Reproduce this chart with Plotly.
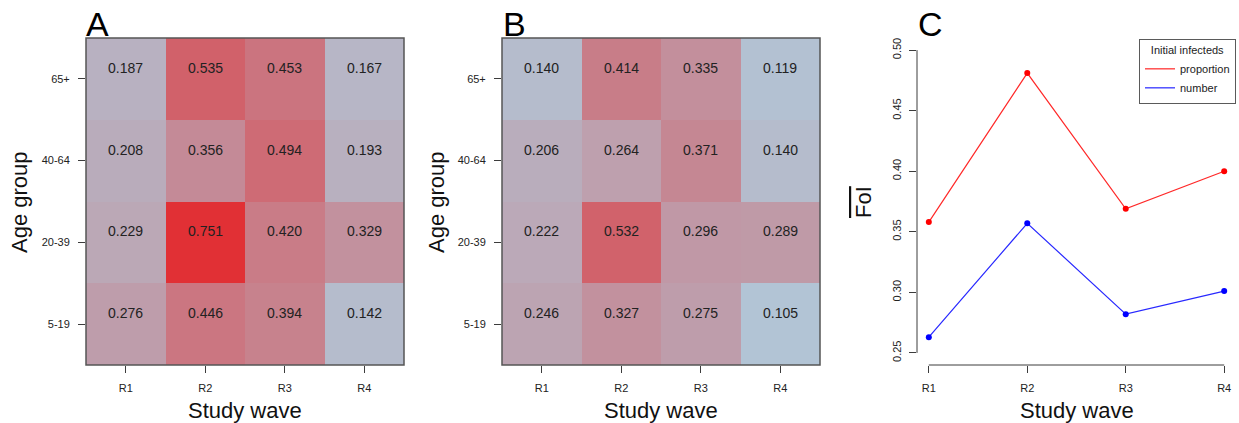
import plotly.graph_objects as go

waves = ["R1", "R2", "R3", "R4"]
ages = ["5-19", "20-39", "40-64", "65+"]  # bottom to top

# FoI by age group (rows, bottom->top) and wave (cols)
foi_prop = [
    [0.276, 0.446, 0.394, 0.142],
    [0.229, 0.751, 0.420, 0.329],
    [0.208, 0.356, 0.494, 0.193],
    [0.187, 0.535, 0.453, 0.167],
]
foi_num = [
    [0.246, 0.327, 0.275, 0.105],
    [0.222, 0.532, 0.296, 0.289],
    [0.206, 0.264, 0.371, 0.140],
    [0.140, 0.414, 0.335, 0.119],
]
mean_prop = [0.358, 0.481, 0.369, 0.400]
mean_num = [0.263, 0.357, 0.282, 0.301]
foi_ticks = [0.25, 0.30, 0.35, 0.40, 0.45, 0.50]

W, H = 1239, 423
FONT = "Liberation Sans, Arial, sans-serif"
AX = "rgb(60,60,60)"

def px(x):
    return x / W

def py(y):
    return 1 - y / H

allv = [v for r in foi_prop + foi_num for v in r]
zmin, zmax = min(allv), max(allv)
cscale = [[0, "rgb(178,196,213)"], [1, "rgb(225,48,53)"]]

fig = go.Figure()
idx = list(range(len(waves)))
idy = list(range(len(ages)))

for k, (z, xa, ya) in enumerate([(foi_prop, "x", "y"), (foi_num, "x2", "y2")]):
    fig.add_trace(go.Heatmap(z=z, x=idx, y=idy, xaxis=xa, yaxis=ya,
                             colorscale=cscale, zmin=zmin, zmax=zmax,
                             showscale=False, hoverinfo="z", xgap=0, ygap=0))
    for i, row in enumerate(z):
        for j, v in enumerate(row):
            fig.add_annotation(x=idx[j], y=idy[i], xref=xa, yref=ya, text=f"{v:.3f}",
                               showarrow=False, yshift=11,
                               font=dict(size=14, color="#222", family=FONT))
    fig.add_shape(type="rect", xref=xa + " domain", yref=ya + " domain",
                  x0=0, x1=1, y0=0, y1=1, line=dict(color="rgb(85,85,85)", width=1.5),
                  fillcolor="rgba(0,0,0,0)", layer="above")

xw = [i + 1 for i in idx]
fig.add_trace(go.Scatter(x=xw, y=mean_prop, mode="lines+markers", xaxis="x3", yaxis="y3",
                         line=dict(color="rgb(255,40,40)", width=1.2),
                         marker=dict(color="red", size=6), showlegend=False))
fig.add_trace(go.Scatter(x=xw, y=mean_num, mode="lines+markers", xaxis="x3", yaxis="y3",
                         line=dict(color="rgb(40,40,255)", width=1.2),
                         marker=dict(color="blue", size=6), showlegend=False))
fig.add_trace(go.Scatter(x=[None], y=[None], mode="lines", xaxis="x3", yaxis="y3",
                         name="proportion", line=dict(color="rgb(255,80,80)", width=1.5)))
fig.add_trace(go.Scatter(x=[None], y=[None], mode="lines", xaxis="x3", yaxis="y3",
                         name="number", line=dict(color="rgb(80,80,255)", width=1.5)))

# R-style detached axis lines for panel C
fig.add_shape(type="line", xref="x3", yref="y3 domain", x0=xw[0], x1=xw[-1], y0=0, y1=0,
              line=dict(color=AX, width=1))
fig.add_shape(type="line", xref="x3 domain", yref="y3", x0=0, x1=0,
              y0=foi_ticks[0], y1=foi_ticks[-1], line=dict(color=AX, width=1))

ydom = [py(365), py(38)]
tickfont = dict(size=11, color="#222", family=FONT)
common_x = dict(range=[-0.5, 3.5], tickvals=idx, ticktext=waves, ticks="outside", ticklen=7,
                tickcolor=AX, showgrid=False, zeroline=False, showline=False,
                tickfont=tickfont, ticklabelstandoff=6, fixedrange=True)
common_y = dict(range=[-0.5, 3.5], tickvals=idy, ticktext=ages, ticks="outside", ticklen=7,
                tickcolor=AX, showgrid=False, zeroline=False, showline=False,
                tickfont=tickfont, ticklabelstandoff=6, domain=ydom, fixedrange=True)

fig.update_layout(
    width=W, height=H, margin=dict(l=0, r=0, t=0, b=0),
    paper_bgcolor="white", plot_bgcolor="white",
    font=dict(family=FONT),
    xaxis=dict(domain=[px(86), px(404)], anchor="y", **common_x),
    yaxis=dict(anchor="x", **common_y),
    xaxis2=dict(domain=[px(502), px(820)], anchor="y2", **common_x),
    yaxis2=dict(anchor="x2", **common_y),
    xaxis3=dict(domain=[px(917), px(1236)], anchor="y3", range=[0.88, 4.12],
                tickvals=xw, ticktext=waves, ticks="outside", ticklen=7, tickcolor=AX,
                showgrid=False, zeroline=False, showline=False, tickfont=tickfont,
                ticklabelstandoff=6),
    yaxis3=dict(domain=ydom, anchor="x3", range=[0.24, 0.51], tickvals=foi_ticks,
                tickformat=".2f", tickangle=-90, ticks="outside", ticklen=7, tickcolor=AX,
                showgrid=False, zeroline=False, showline=False, tickfont=tickfont,
                ticklabelstandoff=4),
    legend=dict(x=px(1236), xanchor="right", y=py(39), yanchor="top",
                bordercolor="rgb(90,90,90)", borderwidth=1, bgcolor="white",
                font=dict(size=11, color="#222", family=FONT),
                title=dict(text="Initial infecteds", side="top center",
                           font=dict(size=11, color="#222", family=FONT)),
                itemwidth=30, tracegroupgap=0),
)

titlefont = dict(size=22, color="#111", family=FONT)
for cx in [245, 661, 1077]:
    fig.add_annotation(x=px(cx), y=py(410), xref="paper", yref="paper", text="Study wave",
                       showarrow=False, font=titlefont, xanchor="center", yanchor="middle")
for cx in [19, 436]:
    fig.add_annotation(x=px(cx), y=py(202), xref="paper", yref="paper", text="Age group",
                       showarrow=False, font=titlefont, textangle=-90,
                       xanchor="center", yanchor="middle")
fig.add_annotation(x=px(863), y=py(202), xref="paper", yref="paper",
                   text="<span style='text-decoration:overline'>FoI</span>",
                   showarrow=False, font=titlefont, textangle=-90,
                   xanchor="center", yanchor="middle")

for lx, letter in [(86, "A"), (503, "B"), (918, "C")]:
    fig.add_annotation(x=px(lx - 2), y=py(24), xref="paper", yref="paper", text=letter,
                       showarrow=False, font=dict(size=34, color="black", family=FONT),
                       xanchor="left", yanchor="middle")

fig.write_html("out.html")
